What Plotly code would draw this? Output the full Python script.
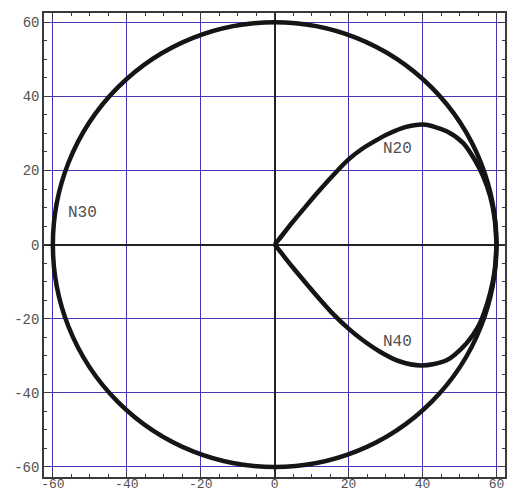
import plotly.graph_objects as go

# Outer boundary circle (radius in data units)
circle_radius = 60

# Upper branch of the inner loop (labelled N20)
upper_x = [0, 1.1, 4.7, 8.3, 11.9, 15.5, 20.0, 23.6, 27.2, 30.8, 35.3, 40.3, 46.5, 51.0, 54.1, 56.4, 58.3, 59.5, 60]
upper_y = [0, 1.35, 5.9, 10.2, 14.4, 18.4, 23.0, 25.8, 28.0, 29.9, 31.7, 32.4, 30.6, 27.4, 22.9, 18.4, 13.0, 7.0, 0]

# Lower branch of the inner loop (labelled N40)
lower_x = [0, 1.1, 4.7, 8.3, 11.9, 15.5, 19.9, 23.6, 28.5, 33.5, 39.7, 46.5, 51.9, 55.0, 56.6, 58.3, 59.5, 60]
lower_y = [0, -1.35, -5.9, -10.2, -14.4, -18.4, -22.6, -25.6, -28.9, -31.4, -32.6, -31.2, -26.6, -22.2, -18.5, -13.0, -7.0, 0]

# Curve labels
label_text = ["N20", "N30", "N40"]
label_x = [33.2, -51.9, 33.2]
label_y = [25.8, 8.6, -26.3]

tick_vals = [-60, -40, -20, 0, 20, 40, 60]
tick_text = ["-60", "-40", "-20", "0", "20", "40", "60"]

curve_color = "#151515"
grid_color = "#4638b4"
frame_color = "#3a3a3a"
text_color = "#505050"
mono = "Liberation Mono, DejaVu Sans Mono, monospace"

fig = go.Figure()

for xs, ys in [(upper_x, upper_y), (lower_x, lower_y)]:
    fig.add_trace(go.Scatter(
        x=xs, y=ys, mode="lines",
        line=dict(color=curve_color, width=4.5, shape="spline", smoothing=0.8),
        hoverinfo="skip", showlegend=False,
    ))

fig.add_shape(
    type="circle", xref="x", yref="y",
    x0=-circle_radius, y0=-circle_radius, x1=circle_radius, y1=circle_radius,
    line=dict(color=curve_color, width=4.5),
)

for t, x, y in zip(label_text, label_x, label_y):
    fig.add_annotation(
        x=x, y=y, text=t, showarrow=False,
        font=dict(family=mono, size=16, color=text_color),
    )

axis_common = dict(
    tickvals=tick_vals, ticktext=tick_text, automargin=False,
    showgrid=True, gridcolor=grid_color, gridwidth=1,
    zeroline=True, zerolinecolor="#222222", zerolinewidth=1.5,
    showline=True, linecolor=frame_color, linewidth=1.5, mirror="allticks",
    ticks="inside", ticklen=6, tickwidth=1, tickcolor=frame_color,
    minor=dict(dtick=5, ticks="inside", ticklen=3, tickcolor=frame_color, showgrid=False),
    tickfont=dict(family=mono, size=14, color=text_color),
)

fig.update_layout(
    width=507, height=492,
    margin=dict(l=44, r=2, t=13, b=15),
    paper_bgcolor="white", plot_bgcolor="white",
    xaxis=dict(range=[-62.4, 62.3], ticklabelstandoff=-6,
               **{**axis_common, "tickfont": dict(family=mono, size=13, color=text_color)}),
    yaxis=dict(range=[-62.7, 62.5], **axis_common),
)

fig.write_html("out.html")
